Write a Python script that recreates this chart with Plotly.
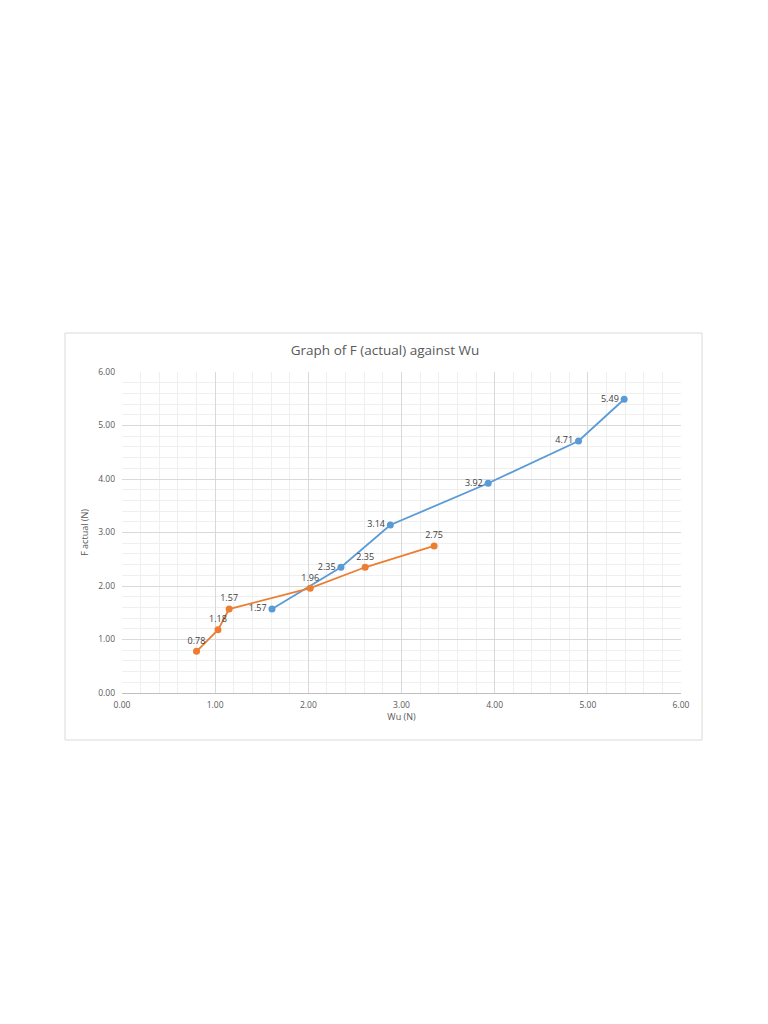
import plotly.graph_objects as go

# Series
wu_blue = [1.61, 2.35, 2.88, 3.93, 4.90, 5.39]
f_blue = [1.57, 2.35, 3.14, 3.92, 4.71, 5.49]

wu_orange = [0.80, 1.03, 1.15, 2.02, 2.61, 3.35]
f_orange = [0.78, 1.18, 1.57, 1.96, 2.35, 2.75]

tick_vals = [0, 1, 2, 3, 4, 5, 6]
tick_text = ["0.00", "1.00", "2.00", "3.00", "4.00", "5.00", "6.00"]

BLUE = "#5B9BD5"
ORANGE = "#ED7D31"
FONT = "Open Sans"

fig = go.Figure()

fig.add_trace(
    go.Scatter(
        x=wu_blue,
        y=f_blue,
        mode="lines+markers+text",
        line=dict(color=BLUE, width=1.8),
        marker=dict(color=BLUE, size=7),
        text=["%.2f" % v for v in f_blue],
        textposition="middle left",
        textfont=dict(family=FONT, size=9, color="#404040"),
        showlegend=False,
    )
)

fig.add_trace(
    go.Scatter(
        x=wu_orange,
        y=f_orange,
        mode="lines+markers+text",
        line=dict(color=ORANGE, width=1.8),
        marker=dict(color=ORANGE, size=7),
        text=["%.2f" % v for v in f_orange],
        textposition="top center",
        textfont=dict(family=FONT, size=9, color="#404040"),
        showlegend=False,
    )
)

axis_common = dict(
    range=[0, 6],
    tickvals=tick_vals,
    ticktext=tick_text,
    tickfont=dict(family=FONT, size=8.5, color="#595959"),
    showgrid=True,
    gridcolor="#D9D9D9",
    gridwidth=1,
    minor=dict(dtick=0.2, showgrid=True, gridcolor="#EFEFEF", gridwidth=1),
    zeroline=False,
    ticks="",
)

fig.update_xaxes(
    **axis_common,
    showline=True,
    linecolor="#BFBFBF",
    ticklabelstandoff=4,
    title=dict(text="Wu (N)", font=dict(family=FONT, size=9, color="#595959"), standoff=4),
)
fig.update_yaxes(
    **axis_common,
    showline=False,
    ticklabelstandoff=6,
    title=dict(text="F actual (N)", font=dict(family=FONT, size=9, color="#595959"), standoff=8),
)

fig.update_layout(
    width=768,
    height=1024,
    margin=dict(l=114, r=95, t=364, b=339),
    paper_bgcolor="white",
    plot_bgcolor="white",
    title=dict(
        text="Graph of F (actual) against Wu",
        font=dict(family=FONT, size=13.5, color="#595959"),
        x=(385 - 8) / 768,
        xanchor="center",
        y=1 - 342 / 1024,
        yanchor="middle",
    ),
    shapes=[
        dict(
            type="rect",
            xref="paper",
            yref="paper",
            x0=(65 - 122) / 559,
            x1=(702 - 122) / 559,
            y0=(693 - 740) / 321,
            y1=(693 - 333) / 321,
            line=dict(color="#D9D9D9", width=1),
            fillcolor="rgba(0,0,0,0)",
            layer="below",
        )
    ],
)

fig.write_html("out.html")
